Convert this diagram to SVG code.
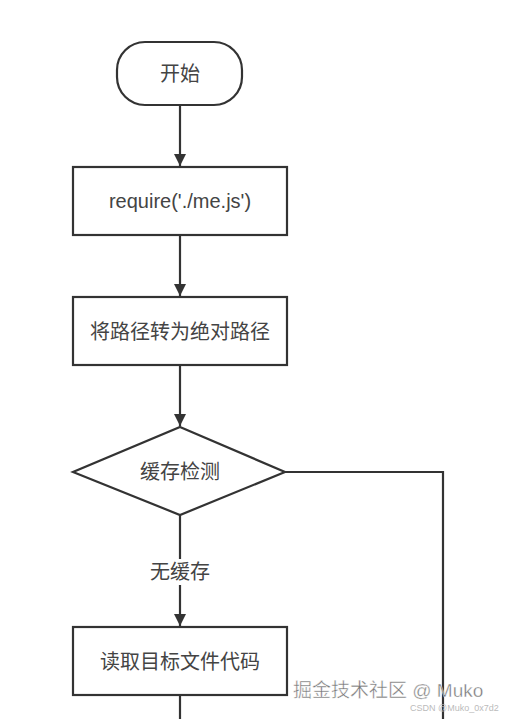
<svg xmlns="http://www.w3.org/2000/svg" width="505" height="719" viewBox="0 0 505 719">
<defs>
<style>
.n{fill:#fff;stroke:#333;stroke-width:2.2}
.t{font-family:"Liberation Sans","Noto Sans CJK SC",sans-serif;font-size:20px;fill:#444;text-anchor:middle;dominant-baseline:central}
.c{fill:none;stroke:#333;stroke-width:2.2}
</style>
<marker id="ah" viewBox="0 0 10 10" refX="10" refY="5" markerWidth="6.5" markerHeight="5.5" markerUnits="strokeWidth" orient="auto">
<path d="M0,0 L10,5 L0,10 z" fill="#333"/>
</marker>
</defs>
<rect width="505" height="719" fill="#fff"/>
<g id="connectors">
<line class="c" x1="180" y1="105" x2="180" y2="166" marker-end="url(#ah)"/>
<line class="c" x1="180" y1="235" x2="180" y2="296" marker-end="url(#ah)"/>
<line class="c" x1="180" y1="365" x2="180" y2="426" marker-end="url(#ah)"/>
<line class="c" x1="180" y1="515" x2="180" y2="626" marker-end="url(#ah)"/>
<polyline class="c" points="285,472 443,472 443,719"/>
<line class="c" x1="180" y1="695" x2="180" y2="719"/>
<rect x="145" y="559" width="70" height="26" fill="#fff"/>
<text class="t" x="180" y="572">无缓存</text>
</g>
<g id="start">
<rect class="n" x="117" y="42" width="125" height="63" rx="28" ry="28"/>
<text class="t" x="180" y="74">开始</text>
</g>
<g id="require">
<rect class="n" x="73" y="167" width="214" height="68"/>
<text class="t" x="180" y="201" font-size="21">require('./me.js')</text>
</g>
<g id="resolve">
<rect class="n" x="73" y="297" width="214" height="68"/>
<text class="t" x="180" y="332">将路径转为绝对路径</text>
</g>
<g id="cache">
<polygon class="n" points="180,427 285,472 180,515 73,472"/>
<text class="t" x="180" y="472">缓存检测</text>
</g>
<g id="read">
<rect class="n" x="73" y="627" width="214" height="68"/>
<text class="t" x="180" y="662">读取目标文件代码</text>
</g>
<text x="293" y="697" font-family="Liberation Sans,Noto Sans CJK SC,sans-serif" font-size="19" fill="#777" stroke="#fff" stroke-width="0.4">掘金技术社区 @ Muko</text>
<text x="410" y="711" font-family="Liberation Sans,sans-serif" font-size="9" fill="#bbb">CSDN @Muko_0x7d2</text>
</svg>
